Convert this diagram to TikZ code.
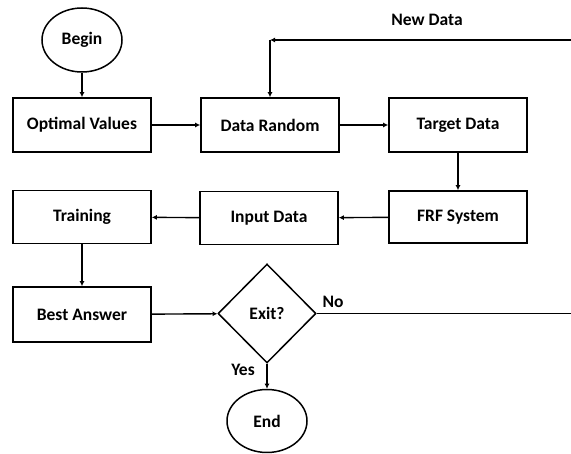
\documentclass[tikz,border=0pt]{standalone}
\usepackage{fontspec}
\setmainfont{Carlito}
\usetikzlibrary{shapes.geometric,arrows.meta}
\begin{document}
\begin{tikzpicture}[x=1pt,y=-1pt,
  every node/.style={font=\fontsize{17.5}{20}\selectfont\bfseries, text=black},
  box/.style={draw, line width=1.6pt, rectangle, minimum width=138pt, minimum height=54pt, inner sep=0pt},
  oval/.style={draw, line width=1.5pt, ellipse, minimum width=80pt, minimum height=64pt, inner sep=0pt},
  decision/.style={draw, line width=1.5pt, diamond, minimum width=98pt, minimum height=99pt, inner sep=0pt},
  conn/.style={line width=1.4pt, -{Latex[length=5pt,width=5pt]}},
  plain/.style={line width=1.4pt},
  lbl/.style={inner sep=0pt}]
\useasboundingbox (0,0) rectangle (571,454);
\node[oval] (begin) at (82,40) {Begin};
\node[box] (ov) at (82,125) {Optimal Values};
\node[box] (dr) at (270,125) {Data Random};
\node[box] (td) at (458,125) {Target Data};
\node[box, minimum height=52pt] (frf) at (458,217) {FRF System};
\node[box, minimum height=53pt] (inp) at (269,218) {Input Data};
\node[box, minimum height=53pt] (tr) at (82,217) {Training};
\node[box, minimum height=55pt] (ba) at (82,314.5) {Best Answer};
\node[decision] (exit) at (267,313.5) {Exit?};
\node[oval, minimum height=63pt] (end) at (267,421) {End};
\node[lbl] (newdata) at (427,20) {New Data};
\node[lbl] (no) at (333,302) {No};
\node[lbl] (yes) at (243,370) {Yes};
\coordinate (ndstart) at (571,40);
\coordinate (corner) at (270,40);
\coordinate (noend) at (571,313.5);
\draw[conn] (begin) -- (ov);
\draw[conn] (ov) -- (dr);
\draw[conn] (dr) -- (td);
\draw[conn] (td) -- (frf);
\draw[conn] (frf) -- (inp);
\draw[conn] (inp) -- (tr);
\draw[conn] (tr) -- (ba);
\draw[conn] (ba) -- (exit);
\draw[conn] (exit) -- (end);
\draw[plain] (exit.east) -- (noend);
\draw[conn] (ndstart) -- (corner);
\draw[conn] (corner) -- (dr.north);
\end{tikzpicture}
\end{document}
